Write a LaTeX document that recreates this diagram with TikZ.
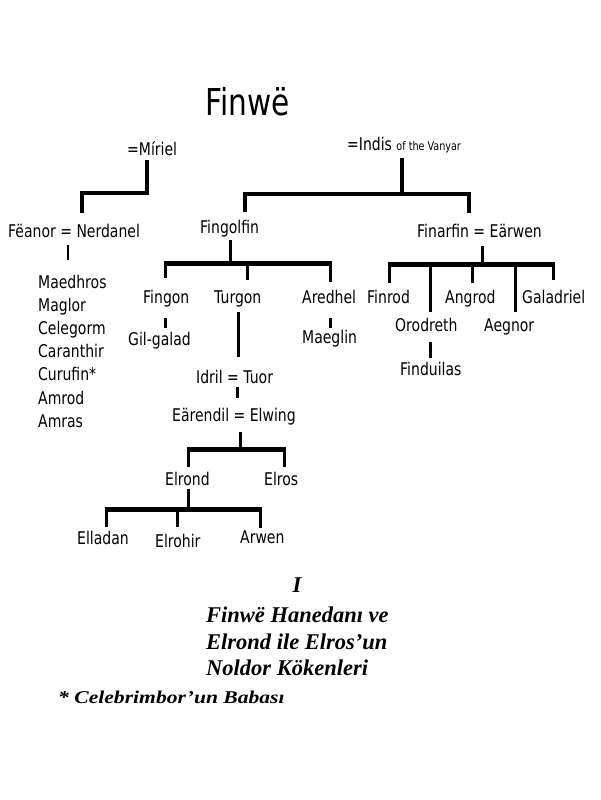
\documentclass[tikz,border=0pt]{standalone}
\usepackage{fontspec}
\setmainfont{DejaVu Sans}[FakeStretch=0.8]
\newfontfamily\capfont{Liberation Serif}
\newfontfamily\notefont{Liberation Serif}[FakeStretch=1.2]
\begin{document}
\begin{tikzpicture}[x=1pt,y=-1pt,
  nm/.style={inner sep=0pt, anchor=base west, font=\fontsize{17.5}{20}\selectfont, text height=13pt, text depth=4pt},
  vl/.style={line width=3pt},
  topl/.style={line width=3.5pt, line join=miter},
  bar/.style={line width=5pt, shorten <=-1.5pt, shorten >=-1.5pt},
  capt/.style={inner sep=0pt, anchor=base west, font=\capfont\bfseries\itshape\fontsize{22.5}{26}\selectfont},
]
\useasboundingbox[fill=white] (0,0) rectangle (600,800);

% title
\node[inner sep=0pt, anchor=base west, font=\fontsize{37}{40}\selectfont] (finwe) at (205,115) {Finwë};

% generation 1
\node[nm] (miriel) at (127,155) {=Míriel};
\node[nm] (indis) at (347,150) {=Indis {\fontsize{12}{13}\selectfont of the Vanyar}};

% generation 2
\node[nm] (feanor) at (8,237) {Fëanor = Nerdanel};
\node[nm] (fingolfin) at (200,233) {Fingolfin};
\node[nm] (finarfin) at (417,237) {Finarfin = Eärwen};

% sons of Feanor
\node[nm] (maedhros) at (38,288) {Maedhros};
\node[nm] (maglor) at (38,311.2) {Maglor};
\node[nm] (celegorm) at (38,334.4) {Celegorm};
\node[nm] (caranthir) at (38,357.6) {Caranthir};
\node[nm] (curufin) at (38,380.8) {Curufin*};
\node[nm] (amrod) at (38,404) {Amrod};
\node[nm] (amras) at (38,427.2) {Amras};

% children of Fingolfin
\node[nm] (fingon) at (143,303) {Fingon};
\node[nm] (turgon) at (214,303) {Turgon};
\node[nm] (aredhel) at (302,303) {Aredhel};
\node[nm] (gilgalad) at (128,345) {Gil-galad};
\node[nm] (maeglin) at (302,343) {Maeglin};
\node[nm] (idril) at (196,383) {Idril = Tuor};
\node[nm] (earendil) at (172,421) {Eärendil = Elwing};
\node[nm] (elrond) at (165,485) {Elrond};
\node[nm] (elros) at (264,485) {Elros};
\node[nm] (elladan) at (77,544) {Elladan};
\node[nm] (elrohir) at (155,547) {Elrohir};
\node[nm] (arwen) at (240,543) {Arwen};

% children of Finarfin
\node[nm] (finrod) at (367,303) {Finrod};
\node[nm] (angrod) at (445,303) {Angrod};
\node[nm] (galadriel) at (522,303) {Galadriel};
\node[nm] (orodreth) at (395,331) {Orodreth};
\node[nm] (aegnor) at (484,331) {Aegnor};
\node[nm] (finduilas) at (400,375) {Finduilas};

% caption
\node[inner sep=0pt, anchor=base, font=\capfont\bfseries\itshape\fontsize{22.5}{26}\selectfont] (roman) at (297,592) {I};
\node[capt] (cap1) at (206,622) {Finwë Hanedanı ve};
\node[capt] (cap2) at (206,649) {Elrond ile Elros’un};
\node[capt] (cap3) at (206,675) {Noldor Kökenleri};
\node[inner sep=0pt, anchor=base west, font=\notefont\bfseries\itshape\fontsize{18}{20}\selectfont] (note) at (58,703) {* Celebrimbor’un Babası};

% ---- connectors ----
% Miriel -> Feanor
\coordinate (mA) at (147,193);
\coordinate (mB) at (82,193);
\draw[topl] ([yshift=-1pt]miriel.south -| mA) -- (mA) -- (mB) -- ([yshift=11pt]feanor.north -| mB);

% Indis -> Fingolfin, Finarfin
\coordinate (iA) at (402,194);
\coordinate (iL) at (245,194);
\coordinate (iR) at (469,194);
\draw[topl] ([yshift=-4pt]indis.south -| iA) -- (iA);
\draw[topl] ([yshift=8pt]fingolfin.north -| iL) -- (iL) -- (iR) -- ([yshift=11pt]finarfin.north -| iR);

% Feanor -> sons
\coordinate (fS) at (68,0);
\draw[line width=2.5pt] ([yshift=-4pt]feanor.south -| fS) -- ([yshift=15pt]maedhros.north -| fS);

% Fingolfin family
\coordinate (gA) at (230,263.5);
\coordinate (gL) at (165,263.5);
\coordinate (gM) at (247,263.5);
\coordinate (gR) at (330,263.5);
\draw[vl] ([yshift=-3pt]fingolfin.south -| gA) -- (gA);
\draw[bar] (gL) -- (gR);
\draw[vl] (gL) -- ([yshift=12pt]fingon.north -| gL);
\draw[vl] (gM) -- ([yshift=10pt]turgon.north -| gM);
\draw[vl] (gR) -- ([yshift=8pt]aredhel.north -| gR);

\coordinate (xFg) at (165,0);
\draw[vl] ([yshift=-11pt]fingon.south -| xFg) -- ([yshift=4pt]gilgalad.north -| xFg);
\coordinate (xTg) at (238,0);
\draw[vl] ([yshift=-5pt]turgon.south -| xTg) -- ([yshift=13pt]idril.north -| xTg);
\coordinate (xAr) at (330,0);
\draw[vl] ([yshift=-11pt]aredhel.south -| xAr) -- ([yshift=2pt]maeglin.north -| xAr);
\coordinate (xId) at (237,0);
\draw[vl] (idril.south -| xId) -- ([yshift=10pt]earendil.north -| xId);

% Earendil family
\coordinate (eA) at (240,449.5);
\coordinate (eL) at (188,449.5);
\coordinate (eR) at (284,449.5);
\draw[vl] ([yshift=-7pt]earendil.south -| eA) -- (eA);
\draw[bar] (eL) -- (eR);
\draw[vl] (eL) -- ([yshift=5pt]elrond.north -| eL);
\draw[vl] (eR) -- ([yshift=5pt]elros.north -| eR);

% Elrond family
\coordinate (rA) at (188,509.5);
\coordinate (rL) at (106,509.5);
\coordinate (rM) at (177,509.5);
\coordinate (rR) at (260,509.5);
\draw[vl] (elrond.south -| rA) -- (rA);
\draw[bar] (rL) -- (rR);
\draw[vl] (rL) -- ([yshift=4pt]elladan.north -| rL);
\draw[vl] (rM) -- ([yshift=7pt]elrohir.north -| rM);
\draw[vl] (rR) -- ([yshift=2pt]arwen.north -| rR);

% Finarfin family
\coordinate (nA) at (482,264.5);
\coordinate (n1) at (389,264.5);
\coordinate (n2) at (430,264.5);
\coordinate (n3) at (472,264.5);
\coordinate (n4) at (515,264.5);
\coordinate (n5) at (553,264.5);
\draw[vl] ([yshift=-5pt]finarfin.south -| nA) -- (nA);
\draw[bar] (n1) -- (n5);
\draw[vl] (n1) -- ([yshift=7pt]finrod.north -| n1);
\draw[vl] (n2) -- ([yshift=6pt]orodreth.north -| n2);
\draw[vl] (n3) -- ([yshift=7pt]angrod.north -| n3);
\draw[vl] (n4) -- ([yshift=6pt]aegnor.north -| n4);
\draw[vl] (n5) -- ([yshift=10pt]galadriel.north -| n5);

\coordinate (xOr) at (430,0);
\draw[vl] ([yshift=-7pt]orodreth.south -| xOr) -- ([yshift=4pt]finduilas.north -| xOr);
\end{tikzpicture}
\end{document}
